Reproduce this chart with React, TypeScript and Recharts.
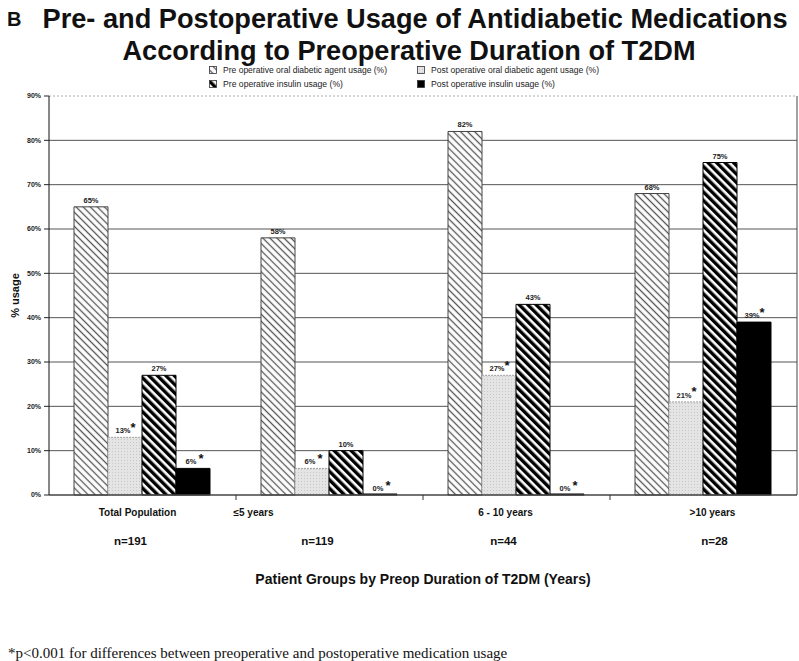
import React from 'react';
import { BarChart, Bar, XAxis, YAxis, CartesianGrid, ReferenceLine, LabelList, Legend } from 'recharts';

const categories = ['Total Population', '\u22645 years', '6 - 10 years', '>10 years'];
const groupSizes = ['n=191', 'n=119', 'n=44', 'n=28'];
const preOral = [65, 58, 82, 68];
const postOral = [13, 6, 27, 21];
const preInsulin = [27, 10, 43, 75];
const postInsulin = [6, 0, 0, 39];
const yTicks = [0, 10, 20, 30, 40, 50, 60, 70, 80, 90];
const gridValues = [10, 20, 30, 40, 50, 60, 70, 80];
const seriesNames = [
  'Pre operative oral diabetic agent usage (%)',
  'Post operative oral diabetic agent usage (%)',
  'Pre operative insulin usage (%)',
  'Post operative insulin usage (%)',
];

const data = categories.map((c, i) => ({
  group: c,
  preOral: preOral[i],
  postOral: postOral[i],
  preInsulin: preInsulin[i],
  postInsulin: postInsulin[i],
}));

const SANS = '"Liberation Sans", Arial, Helvetica, sans-serif';
const SERIF = '"Liberation Serif", "Times New Roman", serif';

const CHART_W = 799;
const CHART_H = 661;
const Y_AXIS_W = 49;
const RIGHT_AXIS_W = 2;
const bandHalf = (CHART_W - Y_AXIS_W - RIGHT_AXIS_W) / categories.length / 2;

const fills = ['url(#hatchLight)', 'url(#stipple)', 'url(#hatchDark)', '#000'];
const strokes = ['#444', '#a0a0a0', '#000', '#000'];

const labelShift = [-5, -76, -11, 9];
const nShift = [-12, -12, -13, 11];

const CatTick = (props: any) => {
  const { x, y, index } = props;
  const i = index ?? 0;
  return (
    <g>
      {i > 0 && <line x1={x - bandHalf} x2={x - bandHalf} y1={y} y2={y + 5} stroke="#333" strokeWidth={1} />}
      <text x={x + labelShift[i]} y={y + 21} textAnchor="middle" fontSize={10} fontWeight="bold" fontFamily={SANS} fill="#111">
        {categories[i]}
      </text>
      <text x={x + nShift[i]} y={y + 50} textAnchor="middle" fontSize={11.5} fontWeight="bold" fontFamily={SANS} fill="#111">
        {groupSizes[i]}
      </text>
    </g>
  );
};

const XTitle = (props: any) => {
  const vb = props.viewBox || {};
  return (
    <text x={vb.x + vb.width / 2} y={vb.y + 89} textAnchor="middle" fontSize={14} fontWeight="bold" fontFamily={SANS} fill="#111">
      Patient  Groups by Preop Duration of T2DM (Years)
    </text>
  );
};

const YTitle = (props: any) => {
  const vb = props.viewBox || {};
  const cx = 15;
  const cy = vb.y + vb.height / 2;
  return (
    <text x={cx} y={cy} transform={`rotate(-90 ${cx} ${cy})`} textAnchor="middle" dominantBaseline="central" fontSize={11} fontWeight="bold" fontFamily={SANS} fill="#111">
      % usage
    </text>
  );
};

const makeLabel = (star: boolean) => (props: any) => {
  const { x, y, width, height, value } = props;
  const cx = x + width / 2;
  const top = Math.min(y, y + (height || 0));
  const by = (value === 0 ? y + (height || 0) : top) - 4;
  return (
    <g>
      <text x={star ? cx - 2 : cx} y={by} textAnchor="middle" fontSize={7.5} fontWeight="bold" fontFamily={SANS} fill="#222">
        {value}%
      </text>
      {star && (
        <text x={cx + 8} y={by - 1.5} textAnchor="middle" fontSize={13} fontWeight="bold" fontFamily={SANS} fill="#111">
          *
        </text>
      )}
    </g>
  );
};

const LegendContent = () => {
  const textWidths = [164, 168, 120, 124];
  return (
    <svg width={430} height={28} style={{ display: 'block', overflow: 'visible' }}>
      {seriesNames.map((name, i) => {
        const col = i % 2;
        const row = Math.floor(i / 2);
        const mx = col === 0 ? 8 : 216;
        const cy = row === 0 ? 8 : 22;
        return (
          <g key={name}>
            <rect x={mx - 3.5} y={cy - 3.5} width={7} height={7} fill={fills[i]} stroke="#333" strokeWidth={0.8} />
            <text x={mx + 10} y={cy + 3} fontSize={8.5} fontFamily={SANS} fill="#222" textLength={textWidths[i]} lengthAdjust="spacingAndGlyphs">
              {name}
            </text>
          </g>
        );
      })}
    </svg>
  );
};

export default function App() {
  return (
    <div style={{ position: 'absolute', left: 0, top: 0, width: CHART_W, height: CHART_H, background: '#fff', overflow: 'hidden' }}>
      <svg width={0} height={0} style={{ position: 'absolute' }}>
        <defs>
          <pattern id="hatchLight" width={5} height={5} patternUnits="userSpaceOnUse" patternTransform="rotate(-45)">
            <rect width={5} height={5} fill="#fff" />
            <line x1={2.5} y1={0} x2={2.5} y2={5} stroke="#555" strokeWidth={1.3} />
          </pattern>
          <pattern id="hatchDark" width={6} height={6} patternUnits="userSpaceOnUse" patternTransform="rotate(-45)">
            <rect width={6} height={6} fill="#fff" />
            <rect x={0} y={0} width={3.4} height={6} fill="#000" />
          </pattern>
          <pattern id="stipple" width={3} height={3} patternUnits="userSpaceOnUse">
            <rect width={3} height={3} fill="#e4e4e4" />
            <rect x={1} y={1} width={1} height={1} fill="#c8c8c8" />
          </pattern>
        </defs>
      </svg>

      <svg width={CHART_W} height={72} style={{ position: 'absolute', left: 0, top: 0 }}>
        <text x={7} y={26} fontSize={20} fontWeight="bold" fontFamily={SANS} fill="#111">B</text>
        <text x={415} y={28} textAnchor="middle" fontSize={27} fontWeight="bold" fontFamily={SANS} fill="#111" textLength={745} lengthAdjust="spacingAndGlyphs">
          Pre- and Postoperative Usage of Antidiabetic Medications
        </text>
        <text x={409} y={60} textAnchor="middle" fontSize={27} fontWeight="bold" fontFamily={SANS} fill="#111" textLength={573} lengthAdjust="spacingAndGlyphs">
          According to Preoperative Duration of T2DM
        </text>
      </svg>

      <BarChart
        width={CHART_W}
        height={CHART_H}
        data={data}
        margin={{ top: 96, right: 0, bottom: 0, left: 0 }}
        barCategoryGap={25}
        barGap={0}
        style={{ position: 'absolute', left: 0, top: 0 }}
      >
        <CartesianGrid vertical={false} horizontalValues={gridValues} stroke="#555" strokeWidth={1} />
        <XAxis
          dataKey="group"
          interval={0}
          tickSize={0}
          tickMargin={0}
          tickLine={false}
          axisLine={{ stroke: '#444', strokeWidth: 1.5 }}
          height={CHART_H - 495}
          tick={<CatTick />}
          label={<XTitle />}
        />
        <YAxis
          domain={[0, 90]}
          ticks={yTicks}
          interval={0}
          width={Y_AXIS_W}
          tickFormatter={(v: number) => `${v}%`}
          tick={{ fontSize: 7, fontWeight: 'bold', fontFamily: SANS, fill: '#222' }}
          tickSize={5}
          tickMargin={3}
          tickLine={{ stroke: '#222' }}
          axisLine={{ stroke: '#111' }}
          label={<YTitle />}
        />
        <YAxis
          yAxisId="right"
          orientation="right"
          domain={[0, 90]}
          width={RIGHT_AXIS_W}
          tick={false}
          tickLine={false}
          axisLine={{ stroke: '#444' }}
        />
        <ReferenceLine y={90} stroke="#aaa" strokeDasharray="2 2" />
        <Legend
          verticalAlign="middle"
          align="center"
          layout="horizontal"
          content={<LegendContent />}
          wrapperStyle={{ position: 'absolute', top: 62, left: 205, width: 430, height: 28 }}
        />
        <Bar dataKey="preOral" name={seriesNames[0]} fill={fills[0]} stroke={strokes[0]} strokeWidth={1} isAnimationActive={false}>
          <LabelList dataKey="preOral" content={makeLabel(false)} />
        </Bar>
        <Bar dataKey="postOral" name={seriesNames[1]} fill={fills[1]} stroke={strokes[1]} strokeWidth={1} strokeDasharray="2 1" isAnimationActive={false}>
          <LabelList dataKey="postOral" content={makeLabel(true)} />
        </Bar>
        <Bar dataKey="preInsulin" name={seriesNames[2]} fill={fills[2]} stroke={strokes[2]} strokeWidth={1} isAnimationActive={false}>
          <LabelList dataKey="preInsulin" content={makeLabel(false)} />
        </Bar>
        <Bar dataKey="postInsulin" name={seriesNames[3]} fill={fills[3]} stroke={strokes[3]} strokeWidth={1} minPointSize={1} isAnimationActive={false}>
          <LabelList dataKey="postInsulin" content={makeLabel(true)} />
        </Bar>
      </BarChart>

      <div style={{ position: 'absolute', left: 8, top: 644, fontFamily: SERIF, fontSize: 15, color: '#111', whiteSpace: 'nowrap', lineHeight: '18px' }}>
        *p&lt;0.001 for differences between preoperative and postoperative medication usage
      </div>
    </div>
  );
}
